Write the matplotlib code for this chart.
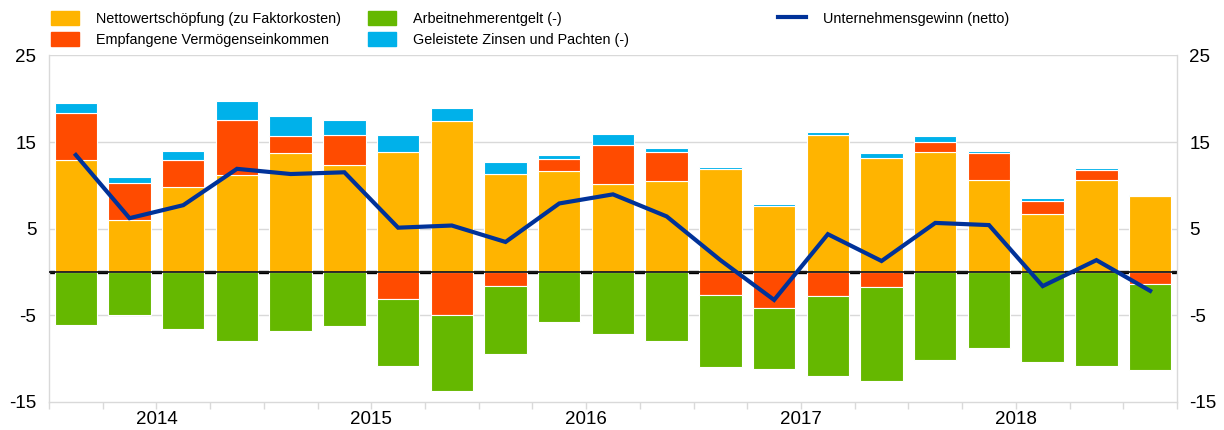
import numpy as np
import matplotlib.pyplot as plt
from matplotlib.patches import Patch
from matplotlib.lines import Line2D

plt.rcParams['font.family'] = ['Liberation Sans', 'DejaVu Sans']

# quarters 2014 Q1 .. 2019 Q1
years = ['2014', '2015', '2016', '2017', '2018']
wertschoepfung = [12.9, 6.0, 9.8, 11.2, 13.7, 12.4, 13.9, 17.4, 11.35, 11.6, 10.2,
                  10.5, 11.9, 7.65, 15.85, 13.1, 13.8, 10.6, 6.7, 10.6, 8.8]
vermoegen = [5.5, 4.3, 3.1, 6.4, 2.0, 3.4, -3.1, -5.0, -1.65, 1.4, 4.5,
             3.35, -2.7, -4.2, -2.75, -1.75, 1.2, 3.1, 1.45, 1.15, -1.4]
zinsen = [1.1, 0.6, 1.1, 2.1, 2.3, 1.8, 1.9, 1.5, 1.3, 0.55, 1.2,
          0.4, 0.25, 0.15, 0.3, 0.6, 0.65, 0.3, 0.4, 0.25, 0.05]
arbeitnehmer = [-6.2, -5.0, -6.6, -8.0, -6.8, -6.3, -7.8, -8.8, -7.8, -5.85, -7.15,
                -8.05, -8.3, -7.0, -9.25, -10.85, -10.2, -8.85, -10.4, -10.9, -9.9]
gewinn = [13.5, 6.2, 7.7, 11.9, 11.3, 11.5, 5.1, 5.35, 3.45, 7.9, 8.95,
          6.4, 1.35, -3.25, 4.35, 1.25, 5.65, 5.4, -1.65, 1.35, -2.2]

c_yellow = '#FFB400'
c_red = '#FF4B00'
c_green = '#65B800'
c_blue = '#00B1EA'
c_line = '#003299'
c_grid = '#D9D9D9'

fig = plt.figure(figsize=(12.24, 4.30), dpi=100)
ax = fig.add_axes([0.040, 0.066, 0.9216, 0.805])

x = np.arange(len(wertschoepfung))
wert = np.array(wertschoepfung)
verm = np.array(vermoegen)
zins = np.array(zinsen)
arb = np.array(arbeitnehmer)

w = 0.79
kw = dict(width=w, edgecolor='white', linewidth=0.8, zorder=2)
ax.bar(x, wert, bottom=0, color=c_yellow, **kw)
ax.bar(x, verm, bottom=np.where(verm > 0, wert, 0), color=c_red, **kw)
ax.bar(x, zins, bottom=wert + np.clip(verm, 0, None), color=c_blue, **kw)
ax.bar(x, arb, bottom=np.clip(verm, None, 0), color=c_green, **kw)

# zero line: thick behind the bars, thinner on top of them
ax.axhline(0, color='black', lw=2.4, zorder=1)
ax.axhline(0, color='#1a1a1a', lw=1.3, zorder=3)
ax.plot(x, gewinn, color=c_line, lw=3, zorder=4, solid_joinstyle='miter')

ax.set_xlim(-0.5, len(x) - 0.5)
ax.set_ylim(-15, 25)
ax.set_yticks([-15, -5, 5, 15, 25])
ax.set_yticklabels(['-15', '-5', '5', '15', '25'])
ax.tick_params(axis='y', labelsize=13.5, length=0, pad=9, labelright=True, right=True)
for yy in [-5, 5, 15, 25]:
    ax.axhline(yy, color=c_grid, lw=1, zorder=0)

# boundary ticks with year labels in the middle of each year
bounds = np.arange(-0.5, len(x), 1.0)
labels = [''] * len(bounds)
for i, yr in enumerate(years):
    labels[2 + 4 * i] = yr
ax.set_xticks(bounds)
ax.set_xticklabels(labels)
ax.tick_params(axis='x', labelsize=13.5, length=5, color=c_grid, width=1, pad=2)

for s in ['left', 'right', 'bottom']:
    ax.spines[s].set_color(c_grid)
    ax.spines[s].set_linewidth(1)
ax.spines['top'].set_visible(False)

leg_kw = dict(frameon=False, fontsize=10.4, handlelength=1.95, handleheight=1.1,
              handletextpad=1.15, labelspacing=0.42, borderaxespad=0, borderpad=0,
              loc='upper left')
top = 1 - 11 / 430
fig.legend(handles=[Patch(color=c_yellow, label='Nettowertschöpfung (zu Faktorkosten)'),
                    Patch(color=c_red, label='Empfangene Vermögenseinkommen')],
           bbox_to_anchor=(51 / 1224, top), **leg_kw)
fig.legend(handles=[Patch(color=c_green, label='Arbeitnehmerentgelt (-)'),
                    Patch(color=c_blue, label='Geleistete Zinsen und Pachten (-)')],
           bbox_to_anchor=(368 / 1224, top), **leg_kw)
fig.legend(handles=[Line2D([], [], color=c_line, lw=3, label='Unternehmensgewinn (netto)')],
           bbox_to_anchor=(778 / 1224, top), **leg_kw)

fig.savefig('out.png', dpi=100)
